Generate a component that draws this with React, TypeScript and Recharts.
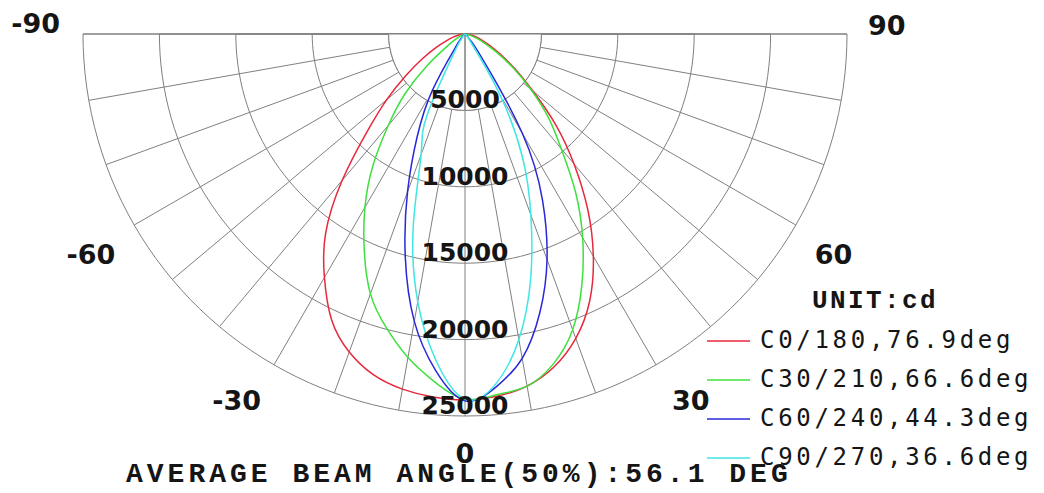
import React from "react";
import {
  RadarChart,
  Radar,
  PolarGrid,
  PolarAngleAxis,
  PolarRadiusAxis,
  Legend,
  Curve,
} from "recharts";

// gamma angle from nadir, negative = left half of the diagram
const ANGLES = [
  -90, -85, -80, -75, -70, -65, -60, -55, -50, -45, -40, -35, -30, -25, -20, -15,
  -10, -5, 0, 5, 10, 15, 20, 25, 30, 35, 40, 45, 50, 55, 60, 65, 70, 75, 80, 85, 90,
];

// intensities in cd
const C0_180 = [
  0, 150, 400, 800, 1300, 2100, 3200, 4700, 6700, 9100, 12500, 15900, 18400, 20650,
  22150, 23100, 23600, 23850, 23950, 23800, 23400, 22550, 21200, 19300, 16800, 14000,
  11100, 8400, 5800, 4000, 2700, 1800, 1200, 750, 400, 150, 0,
];
const C30_210 = [
  0, 0, 50, 100, 200, 400, 800, 1500, 3300, 5600, 7800, 10500, 13100, 15600, 18100,
  19900, 21500, 22850, 23900, 23700, 23400, 22350, 20600, 18100, 15400, 12600, 9800,
  7700, 5600, 3800, 2400, 1400, 800, 400, 200, 100, 0,
];
const C60_240 = [
  0, 0, 0, 0, 0, 50, 50, 100, 150, 250, 500, 1200, 4300, 7400, 11000, 15100, 19100,
  22100, 24000, 23200, 21550, 18900, 15700, 12000, 7500, 2000, 500, 250, 150, 100, 50,
  50, 0, 0, 0, 0, 0,
];
const C90_270 = [
  0, 0, 0, 0, 0, 0, 0, 50, 100, 150, 250, 500, 1500, 5900, 8400, 13100, 17800, 21500,
  23900, 23000, 20300, 16600, 12600, 8900, 4500, 700, 250, 150, 100, 50, 0, 0, 0, 0, 0,
  0, 0,
];

const SERIES_KEYS = ["c0", "c30", "c60", "c90"];
const SERIES_NAMES = [
  "C0/180,76.9deg",
  "C30/210,66.6deg",
  "C60/240,44.3deg",
  "C90/270,36.6deg",
];
const COLORS = ["#e8283c", "#3ee03e", "#2828d8", "#3ee6e6"];

const ANGLE_TICKS = [-90, -60, -30, 0, 30, 60, 90];
const MAX_CD = 25000;
const INNER_RING = 5000;

const UNIT_LABEL = "UNIT:cd";
const TITLE = "AVERAGE BEAM ANGLE(50%):56.1 DEG";

const GRID = "#808080";
const TEXT = "#151515";

// fine steps so the polygon grid reads as arcs, 10 deg spokes
const ARC_ANGLES = Array.from({ length: 91 }, (_, i) => 180 + i * 2);
const SPOKE_ANGLES = Array.from({ length: 19 }, (_, i) => 180 + i * 10);

// label nudges relative to the outer ring: [dx, dy, anchor]
const ANGLE_LABEL_OFFSET: Record<number, [number, number, string]> = {
  "-90": [-15, -1, "end"],
  "-60": [-12, 35, "end"],
  "-30": [-9, 38, "end"],
  "0": [0, 39, "middle"],
  "30": [12, 38, "start"],
  "60": [12, 35, "start"],
  "90": [13, 1, "start"],
};

const renderAngleTick = (props: any) => {
  const { x, y, payload } = props;
  const o = ANGLE_LABEL_OFFSET[payload.value] ?? [0, 0, "middle"];
  return (
    <text
      x={x + o[0]}
      y={y + o[1]}
      textAnchor={o[2]}
      fontFamily="DejaVu Sans"
      fontWeight="bold"
      fontSize={27}
      fill={TEXT}
    >
      {payload.value}
    </text>
  );
};

const renderRadiusTick = (props: any) => {
  const { x, y, payload } = props;
  if (!payload.value) return <g />;
  return (
    <text
      x={x}
      y={y - 2}
      textAnchor="middle"
      fontFamily="DejaVu Sans"
      fontWeight="bold"
      fontSize={25}
      fill={TEXT}
    >
      {payload.value}
    </text>
  );
};

// smooth the photometric curve through the radar points
const smoothShape = (color: string) => (props: any) => (
  <Curve
    points={props.points}
    type="natural"
    stroke={color}
    strokeWidth={1.5}
    fill="none"
  />
);

const renderLegend = (props: any) => {
  const items = (props.payload || []).filter((p: any) =>
    SERIES_KEYS.includes(p.dataKey)
  );
  return (
    <svg width={354} height={200}>
      <text
        x={122}
        y={28}
        fontFamily="Liberation Mono"
        fontWeight="bold"
        fontSize={26}
        letterSpacing={2.4}
        fill={TEXT}
      >
        {UNIT_LABEL}
      </text>
      {items.map((p: any, i: number) => (
        <g key={p.dataKey}>
          <line
            x1={17}
            x2={60}
            y1={61 + i * 39}
            y2={61 + i * 39}
            stroke={p.color}
            strokeWidth={1.5}
          />
          <text
            x={70}
            y={68 + i * 39}
            fontFamily="DejaVu Sans Mono"
            fontSize={24}
            letterSpacing={3.7}
            fill={TEXT}
          >
            {p.value}
          </text>
        </g>
      ))}
    </svg>
  );
};

export default function App() {
  const data = ANGLES.map((angle, i) => ({
    angle,
    c0: C0_180[i],
    c30: C30_210[i],
    c60: C60_240[i],
    c90: C90_270[i],
    ring: INNER_RING,
    spoke: angle === 0 ? INNER_RING : 0,
  }));

  return (
    <div
      style={{
        position: "absolute",
        left: 0,
        top: 0,
        width: 1044,
        height: 493,
        background: "#fff",
      }}
    >
      <RadarChart
        width={1044}
        height={493}
        data={data}
        cx={465}
        cy={34}
        innerRadius={0}
        outerRadius={382}
        startAngle={180}
        endAngle={360}
        margin={{ top: 0, right: 0, bottom: 0, left: 0 }}
      >
        <PolarGrid
          gridType="polygon"
          radialLines={false}
          polarAngles={ARC_ANGLES}
          stroke={GRID}
        />
        <PolarGrid
          gridType="polygon"
          polarAngles={SPOKE_ANGLES}
          polarRadius={[]}
          stroke={GRID}
        />
        <PolarAngleAxis
          dataKey="angle"
          type="number"
          domain={[-90, 90]}
          ticks={ANGLE_TICKS}
          axisLine={false}
          tickLine={false}
          tickSize={0}
          tick={renderAngleTick}
        />
        {/* blank out the spokes inside the 5000 ring, keep the 0 deg one */}
        <Radar
          dataKey="ring"
          stroke={GRID}
          fill="#fff"
          fillOpacity={1}
          dot={false}
          legendType="none"
          isAnimationActive={false}
        />
        <Radar
          dataKey="spoke"
          stroke={GRID}
          fillOpacity={0}
          dot={false}
          legendType="none"
          isAnimationActive={false}
        />
        {SERIES_KEYS.map((k, i) => (
          <Radar
            key={k}
            dataKey={k}
            name={SERIES_NAMES[i]}
            stroke={COLORS[i]}
            strokeWidth={1.5}
            fillOpacity={0}
            dot={false}
            shape={smoothShape(COLORS[i])}
            isAnimationActive={false}
          />
        ))}
        <PolarRadiusAxis
          angle={270}
          domain={[0, MAX_CD]}
          tickCount={6}
          axisLine={false}
          tickLine={false}
          tick={renderRadiusTick}
        />
        <Legend
          layout="vertical"
          align="center"
          verticalAlign="middle"
          wrapperStyle={{ left: 690, top: 280, width: 354, height: 200 }}
          content={renderLegend}
        />
        <text
          x={126}
          y={482}
          fontFamily="Liberation Mono"
          fontWeight="bold"
          fontSize={28}
          letterSpacing={4}
          fill={TEXT}
        >
          {TITLE}
        </text>
      </RadarChart>
    </div>
  );
}
